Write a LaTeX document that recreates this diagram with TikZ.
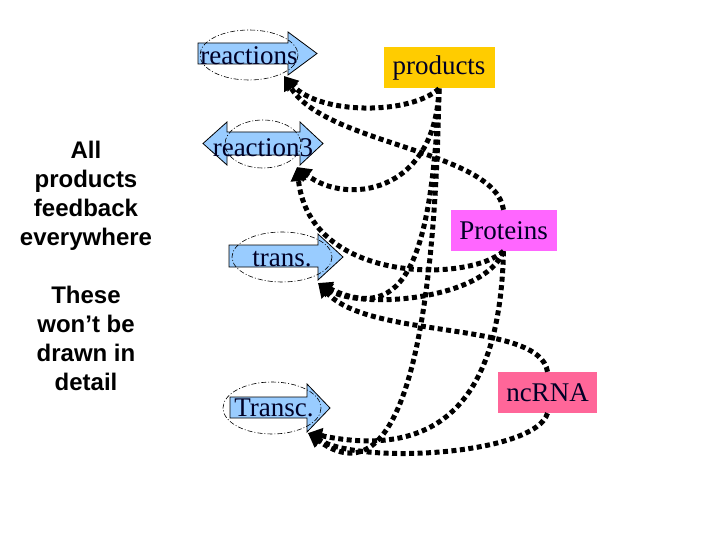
\documentclass[tikz,border=0pt]{standalone}
\usepackage{fontspec}
\setmainfont{Liberation Serif}
\newfontfamily\sansf{Liberation Sans}
\usetikzlibrary{arrows.meta}
\definecolor{arrowblue}{HTML}{99CCFF}
\definecolor{prodcol}{HTML}{FFCC00}
\definecolor{protcol}{HTML}{FF66FF}
\definecolor{rnacol}{HTML}{FF6699}
\tikzset{
  blueshape/.style={fill=arrowblue, draw=black, line width=0.8pt, line join=miter},
  ell/.style={draw=black, line width=0.6pt, dash pattern=on 5pt off 2pt on 1pt off 2pt},
  lab/.style={font=\fontsize{27}{30}\selectfont, inner sep=0pt, text=black!85!blue},
  box/.style={font=\fontsize{27}{30}\selectfont, inner sep=0pt, minimum height=41pt, text=black!85!blue},
  conn/.style={line width=5pt, dash pattern=on 5pt off 3.5pt, -{Triangle[length=14pt,width=15pt]}},
  note/.style={font=\sansf\bfseries\fontsize{24}{29}\selectfont, align=center, inner sep=0pt}
}
\begin{document}
\begin{tikzpicture}[x=1pt,y=-1pt]
\useasboundingbox[fill=white] (0,0) rectangle (720,540);

% left note
\node[note] (note) at (86,266) {All\\products\\feedback\\everywhere\\[29pt]These\\won’t be\\drawn in\\detail};

% reactions (right arrow)
\path[blueshape] (198,43) -- (288,43) -- (288,32) -- (317,53.5) -- (288,75) -- (288,64) -- (198,64) -- cycle;
\draw[ell] (249,55) ellipse [x radius=49, y radius=25];
\node[lab] (reac) at (249,56) {reactions};
\coordinate (reacT) at (284,76);

% reaction3 (double arrow)
\path[blueshape] (203,143.5) -- (227,122) -- (227,132) -- (300,132) -- (300,122) -- (323,143.5) -- (300,165) -- (300,155) -- (227,155) -- (227,165) -- cycle;
\draw[ell] (263,144) ellipse [x radius=38, y radius=24];
\node[lab] (reac3) at (263,148) {reaction3};
\coordinate (reac3T) at (297,167);

% trans. (right arrow)
\path[blueshape] (229,245) -- (318,245) -- (318,234) -- (343,257) -- (318,280) -- (318,267) -- (229,267) -- cycle;
\draw[ell] (282,257) ellipse [x radius=50, y radius=25];
\node[lab] (trans) at (282,259) {trans.};
\coordinate (transT) at (318,283);

% Transc. (right arrow)
\path[blueshape] (230,397) -- (307,397) -- (307,384) -- (330,408) -- (307,432) -- (307,418) -- (230,418) -- cycle;
\draw[ell] (272,408) ellipse [x radius=49, y radius=26];
\node[lab] (transc) at (274,407.5) {Transc.};
\coordinate (transcT) at (308,433);

% product boxes
\node[box, fill=prodcol, minimum width=111pt] (prod) at (439,68) {products};
\node[box, fill=protcol, minimum width=106pt] (prot) at (503.5,230.5) {Proteins};
\node[box, fill=rnacol, minimum width=99pt] (rna) at (547.5,392.5) {ncRNA};

% connectors
\draw[conn] (prod.south) .. controls (410,115) and (320,115) .. (reacT);
\draw[conn] (prot.north) .. controls (495,150) and (325,145) .. (reacT);
\draw[conn] (prod.south) .. controls (435,195) and (345,205) .. (reac3T);
\draw[conn] (prot.south) .. controls (470,282) and (310,285) .. (reac3T);
\draw[conn] (prod.south) .. controls (432,260) and (405,325) .. (transT);
\draw[conn] (prot.south) .. controls (485,300) and (360,310) .. (transT);
\draw[conn] (rna.north) .. controls (540,320) and (370,340) .. (transT);
\draw[conn] (prod.south) .. controls (435,340) and (400,500) .. (transcT);
\draw[conn] (prot.south) .. controls (500,400) and (440,460) .. (transcT);
\draw[conn] (rna.south) .. controls (535,455) and (360,465) .. (transcT);
\end{tikzpicture}
\end{document}
